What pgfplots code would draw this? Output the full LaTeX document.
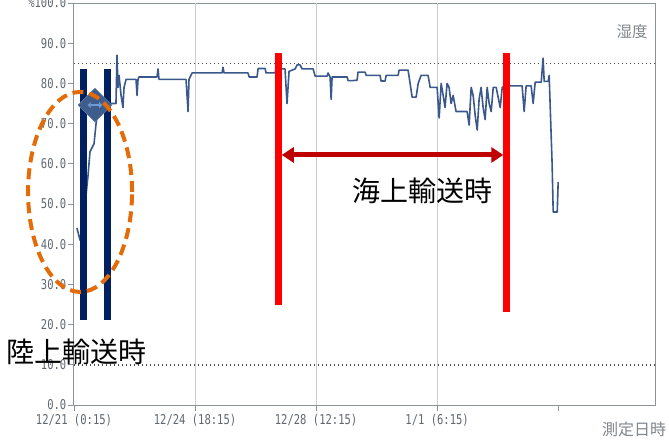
\documentclass[border=0pt]{standalone}
\usepackage{pgfplots}
\pgfplotsset{compat=1.18}
\usepackage{fontspec}
\setmainfont{Liberation Sans}
\newfontfamily\cjk{Noto Sans CJK JP}
\newfontfamily\tickfont[FakeStretch=0.78]{DejaVu Sans Mono}
\usetikzlibrary{arrows.meta,shapes.geometric}
\definecolor{linec}{RGB}{58,88,140}
\definecolor{framegray}{RGB}{140,148,150}
\definecolor{gridgray}{RGB}{200,205,205}
\definecolor{labgray}{RGB}{95,102,110}
\definecolor{navybar}{RGB}{0,32,96}
\definecolor{diam}{RGB}{62,92,140}
\definecolor{diamarrow}{RGB}{110,155,215}
\definecolor{orangec}{RGB}{227,108,9}
\definecolor{darkred}{RGB}{192,0,0}
\begin{document}
\begin{tikzpicture}
\begin{axis}[
  at={(74pt,35pt)}, anchor=south west,
  scale only axis, width=581pt, height=402pt,
  xmin=0, xmax=432, ymin=0, ymax=100,
  clip=false,
  axis line style={draw=framegray, line width=1pt},
  xtick={0,90,180,270,360},
  xticklabels={12/21 (0:15),12/24 (18:15),12/28 (12:15),1/1 (6:15),{}},
  ytick={0,10,20,30,40,50,60,70,80,90,100},
  yticklabels={0.0,10.0,20.0,30.0,40.0,50.0,60.0,70.0,80.0,90.0,\%100.0},
  tick pos=left,
  tick align=outside, major tick length=6pt,
  tick style={draw=framegray, line width=0.8pt},
  ticklabel style={font=\tickfont\fontsize{13.5}{13.5}\selectfont, text=labgray},
  yticklabel style={inner sep=1.5pt},
]
% vertical grid lines
\addplot[gridgray, line width=0.8pt] coordinates {(90,0) (90,100)};
\addplot[gridgray, line width=0.8pt] coordinates {(180,0) (180,100)};
\addplot[gridgray, line width=0.8pt] coordinates {(270,0) (270,100)};
% dotted reference lines
\addplot[black!70, line width=1.4pt, dash pattern=on 1.4pt off 2.6pt] coordinates {(0,85) (432,85)};
\addplot[black!70, line width=1.4pt, dash pattern=on 1.4pt off 2.6pt] coordinates {(0,10) (432,10)};
% humidity series
\addplot[linec, line width=1.6pt, line join=round] coordinates {
(2.2,44) (4.5,41) (6.7,46) (8.9,52) (10.4,57) (11.9,63) (13.4,64) (14.9,65)
(16.4,70) (17.9,73) (19.3,75) (31.2,75) (32.0,87) (32.7,79) (33.5,82)
(35.0,77) (36.4,74) (37.2,79) (38.7,81) (46.1,81) (46.9,77) (47.6,81)
(48.3,81.6) (61.7,81.6) (62.5,83.6) (63.2,81) (83.3,81) (84.8,73) (85.5,81)
(87.8,82.6) (110.1,82.6) (110.8,84) (111.6,82.6) (129.4,82.6) (130.2,81.6)
(136.1,81.6) (136.9,83.7) (142.1,83.7) (142.8,82.6) (149.5,82.6) (150.2,83.6)
(156.9,83.6) (158.4,75) (159.9,83) (164.4,83.6) (165.9,84.6) (168.1,84.6)
(169.6,83.6) (177.8,83.6) (179.3,81.8) (188.2,81.8) (188.9,82.6) (190.4,81.6)
(191.2,76) (191.9,81.6) (203.1,81.6) (203.8,80.7) (207.5,80.7) (210.5,80.8)
(211.2,82.8) (216.5,82.8) (217.2,82) (227.6,82) (228.3,80.6) (231.3,80.6)
(232.1,82) (241.0,82) (241.7,83.3) (248.4,83.3) (249.9,80) (251.4,76.6)
(254.4,76.6) (255.9,80) (258.1,82) (263.3,82) (264.8,79) (270.0,79)
(271.5,71.4) (273.0,80) (274.5,77) (275.9,74) (277.4,80) (278.9,79)
(280.4,75) (281.9,77) (284.1,73) (292.3,73) (293.8,69.6) (295.3,79)
(296.8,77) (298.3,72) (299.8,68.4) (301.2,76) (302.7,79) (304.2,74)
(305.7,71) (307.2,79) (308.7,75) (310.2,73) (311.7,79) (313.9,79)
(316.9,74) (318.4,79) (320.6,79.4) (333.2,79.4) (334.7,73) (336.2,79.4)
(339.9,79.4) (341.4,75) (342.9,80.3) (347.4,80.3) (348.8,86.3) (349.6,80.5)
(352.6,80.5) (353.3,82) (354.1,74) (355.5,60) (356.3,48) (359.3,48)
(360.0,55.5)
};
% annotations: land transport
\draw[navybar, line width=7pt] (axis cs:7.1,21.1) -- (axis cs:7.1,83.6);
\draw[navybar, line width=7pt] (axis cs:24.9,21.1) -- (axis cs:24.9,83.6);
\node[diamond, fill=diam, draw=diam!80!white, line width=0.6pt, minimum size=34pt, inner sep=0pt] at (axis cs:15.6,74.6) {};
\draw[diamarrow, line width=2.5pt, {Triangle[length=3pt,width=6pt]}-{Triangle[length=3pt,width=6pt]}] (axis cs:10.2,74.6) -- (axis cs:21.0,74.6);
\draw[orangec, line width=4pt, dash pattern=on 11pt off 6pt] (axis cs:4.5,53) ellipse [x radius=52pt, y radius=100pt];
\node[font=\cjk\fontsize{28}{28}\selectfont, text=black] at (axis cs:2.2,13.2) {陸上輸送時};
% annotations: sea transport
\draw[red, line width=7pt] (axis cs:151.7,24.9) -- (axis cs:151.7,87.6);
\draw[red, line width=7pt] (axis cs:321.7,23.1) -- (axis cs:321.7,87.6);
\draw[darkred, line width=5pt, {Triangle[length=12pt,width=15pt]}-{Triangle[length=12pt,width=15pt]}] (axis cs:154.5,62.2) -- (axis cs:319.2,62.2);
\node[font=\cjk\fontsize{28}{28}\selectfont, text=black] at (axis cs:258.8,53.3) {海上輸送時};
% corner labels
\node[font=\cjk\fontsize{15.5}{15.5}\selectfont, text=labgray!80!white] at (axis cs:415,92.8) {湿度};
\node[font=\cjk\fontsize{16}{16}\selectfont, text=labgray!80!white] at (axis cs:416.5,-6.2) {測定日時};
\end{axis}
\pgfresetboundingbox
\path[use as bounding box] (0,0) rectangle (669pt,440pt);
\end{tikzpicture}
\end{document}
